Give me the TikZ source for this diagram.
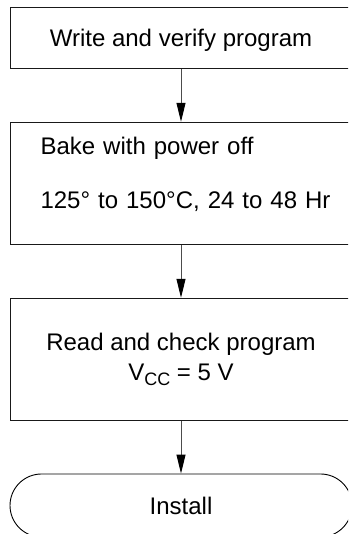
\documentclass[tikz,border=0pt]{standalone}
\usepackage{fontspec}
\setmainfont{Liberation Sans}
\usetikzlibrary{arrows.meta, shapes.misc}

\begin{document}
\begin{tikzpicture}[
    x=1pt, y=1pt,
    >={Triangle[length=19pt, width=9pt, color=black]}, % 细长实心箭头
    font=\fontsize{24}{28.8}\selectfont,
    % 定义流程图组件样式
    procbox/.style={rectangle, draw=black!90, line width=1pt, minimum width=342pt, minimum height=122.7pt, inner xsep=0pt, inner ysep=0pt},
    endbox/.style={rounded rectangle, draw=black, line width=0.9pt, minimum width=342pt, minimum height=63pt, inner sep=0pt},
    arrow/.style={->, line width=1pt, draw=black!70}
]

% 核心 X 轴位置定义
\def\Xmid{181}     % 所有框与箭头的中线
\def\Xleft{10}     % 所有框的左边线

% ==========================================
% 1. 画布范围 (原图右侧与底部被裁掉)
% ==========================================
\useasboundingbox (0, 0) rectangle (348, 534);
\clip (0, 0) rectangle (348, 534);

% ==========================================
% 2. 放置流程节点 (自上而下)
% ==========================================
\node[procbox, minimum height=61.7pt, text depth=0pt] (write) at (\Xmid, 495.85) {Write and verify program};
% 第二个框文字左对齐，框体向右伸出画布
\node[procbox, anchor=west, text width=330pt, inner xsep=30pt, align=left] (bake) at (\Xleft, 350.35)
    {Bake with power off\\[25.9pt]125° to 150°C, 24 to 48 Hr\rule[-21.5pt]{0pt}{21.5pt}};
\node[procbox, align=center] (check) at (\Xmid, 174.35)
    {Read and check program\\[1pt]V\raisebox{-5pt}{\fontsize{18}{18}\selectfont CC} = 5 V};
\node[endbox] (install) at (\Xmid, 28.5) {Install};

% ==========================================
% 3. 节点之间的向下连线
% ==========================================
\draw[arrow] (write.south) -- (write.south |- bake.north);
\draw[arrow] (write.south |- bake.south) -- (check.north);
\draw[arrow] (check.south) -- (install.north);

\end{tikzpicture}
\end{document}
